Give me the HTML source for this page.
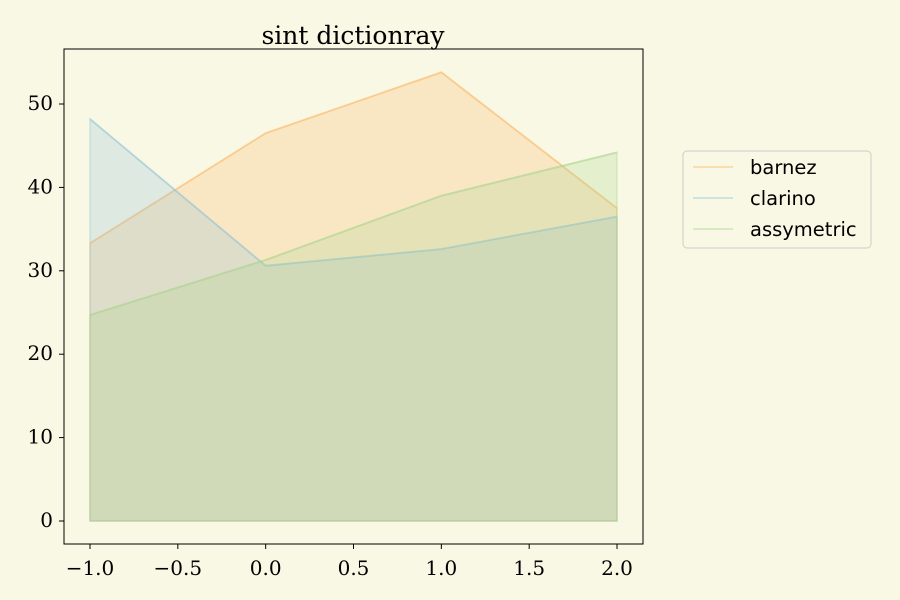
<!DOCTYPE html>
<html><head><meta charset="utf-8"><style>
body{margin:0;background:#f9f8e4;}
svg{display:block;font-family:"DejaVu Serif","Liberation Serif",serif;}
</style></head><body>
<svg id="chart" width="900" height="600">
<rect width="900" height="600" fill="#f9f8e4"/>
<text x="353" y="44" font-size="25" text-anchor="middle">sint dictionray</text>
<g id="plot"></g>
<rect x="64" y="49" width="579" height="495" fill="none" stroke="#000" stroke-width="1"/>
<g>
<rect x="683" y="151" width="188" height="97" rx="4" fill="#f9f8e4" stroke="#ccc"/>
<g id="legend-items" font-family="DejaVu Sans,Liberation Sans,sans-serif" font-size="19.5"></g>
</g>
</svg>
<script>
const categories=[-1,0,1,2];
const seriesNames=["barnez","clarino","assymetric"];
const barnez=[33.3,46.5,53.8,37.5];
const clarino=[48.2,30.6,32.6,36.5];
const assymetric=[24.7,31.3,39.0,44.2];
const xTicks=[-1.0,-0.5,0.0,0.5,1.0,1.5,2.0];
const yTicks=[0,10,20,30,40,50];
const colors=["#fdb462","#8ec1d6","#a6d48a"];
const series=[barnez,clarino,assymetric];
const X=v=>90+(v+1)*175.67;
const Y=v=>521-v*8.34;
const ns="http://www.w3.org/2000/svg";
const plot=document.getElementById('plot');
function mk(t,a,p){const e=document.createElementNS(ns,t);for(const k in a)e.setAttribute(k,a[k]);p.appendChild(e);return e;}
series.forEach((s,i)=>{
 const top=s.map((v,j)=>X(categories[j])+','+Y(v));
 const pts=top.concat([X(categories[categories.length-1])+','+Y(0),X(categories[0])+','+Y(0)]).join(' ');
 const a=mk('polygon',{points:pts,fill:colors[i],'fill-opacity':0.25,stroke:colors[i],'stroke-opacity':0.35,'stroke-width':1.5},plot);
 
 
 const l=mk('polyline',{points:top.join(' '),fill:'none',stroke:colors[i],'stroke-opacity':0.4,'stroke-width':2},plot);
 
 
});
xTicks.forEach(v=>{
 mk('line',{x1:X(v),x2:X(v),y1:544,y2:549,stroke:'#000'},plot);
 const t=mk('text',{x:X(v),y:575,'font-size':20,'text-anchor':'middle'},plot);
 t.textContent=v.toFixed(1).replace('-','\u2212');
 
 
});
yTicks.forEach(v=>{
 mk('line',{x1:59,x2:64,y1:Y(v),y2:Y(v),stroke:'#000'},plot);
 const t=mk('text',{x:53,y:Y(v)+6,'font-size':20,'text-anchor':'end'},plot);
 t.textContent=v;
 
 
});
const lg=document.getElementById('legend-items');
seriesNames.forEach((n,i)=>{
 const y=167+i*31;
 mk('line',{x1:693,x2:733,y1:y,y2:y,stroke:colors[i],'stroke-opacity':0.4,'stroke-width':2},lg);
 const t=mk('text',{x:750,y:y+7},lg);
 t.textContent=n;
 
 
});
</script>
</body></html>
